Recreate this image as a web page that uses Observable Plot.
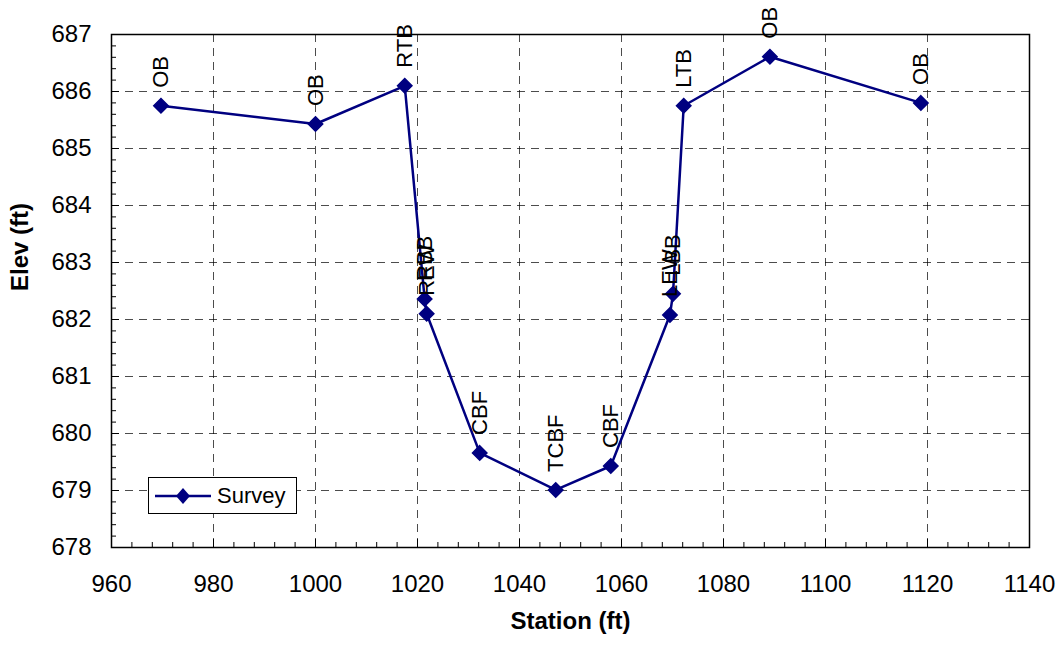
<!DOCTYPE html>
<html>
<head>
<meta charset="utf-8">
<script src="https://cdn.jsdelivr.net/npm/d3@7"></script>
<script src="https://cdn.jsdelivr.net/npm/@observablehq/plot@0.6"></script>
<style>
  html, body { margin: 0; padding: 0; background: #fff; }
  #wrap { position: relative; width: 1064px; height: 645px; font-family: "Liberation Sans", Arial, sans-serif; }
  #legend { position: absolute; left: 148px; top: 477px; width: 147px; height: 35px; border: 1px solid #000; background: #fff;
            display: flex; align-items: center; font-size: 22px; }
</style>
</head>
<body>
<div id="wrap"></div>
<script>
// ---- data ----
const station = [969.7, 1000.0, 1017.5, 1021.4, 1021.8, 1032.2, 1047.1, 1057.9, 1069.5, 1070.1, 1072.2, 1089.1, 1118.7];
const elev    = [685.75, 685.43, 686.10, 682.36, 682.10, 679.66, 679.01, 679.43, 682.08, 682.45, 685.75, 686.61, 685.80];
const codes   = ["OB", "OB", "RTB", "RBB", "REW", "CBF", "TCBF", "CBF", "LEW", "LBB", "LTB", "OB", "OB"];
const seriesName = "Survey";
const xTicks = [960, 980, 1000, 1020, 1040, 1060, 1080, 1100, 1120, 1140];
const yTicks = [678, 679, 680, 681, 682, 683, 684, 685, 686, 687];
const xMinor = d3.range(960, 1140.001, 4);
const yMinor = d3.range(0, 46).map(i => 678 + i * 0.2);
const xTitle = "Station (ft)";
const yTitle = "Elev (ft)";

const rows = station.map((s, i) => ({station: s, elev: elev[i], code: codes[i]}));
const navy = "#000080";
const W = 1064, H = 645, mL = 111, mR = 35, mT = 34, mB = 98;
const plotH = H - mT - mB, plotW = W - mL - mR;

const chart = Plot.plot({
  width: W, height: H,
  marginLeft: mL, marginRight: mR, marginTop: mT, marginBottom: mB,
  style: {fontFamily: '"Liberation Sans", Arial, sans-serif', fontSize: "24px", background: "#fff", color: "#000"},
  x: {domain: [960, 1140]},
  y: {domain: [678, 687]},
  marks: [
    Plot.gridX({ticks: xTicks, stroke: "#000", strokeOpacity: 0.7, strokeDasharray: "8,6"}),
    Plot.gridY({ticks: yTicks, stroke: "#000", strokeOpacity: 0.7, strokeDasharray: "8,6"}),
    Plot.ruleX(xMinor, {x: d => d, insetTop: plotH - 5, stroke: "#000"}),
    Plot.ruleY(yMinor, {y: d => d, insetRight: plotW - 5, stroke: "#000"}),
    Plot.ruleX(xTicks, {x: d => d, insetTop: plotH - 8, stroke: "#000"}),
    Plot.ruleY(yTicks, {y: d => d, insetRight: plotW - 8, stroke: "#000"}),
    Plot.frame({stroke: "#000", strokeWidth: 1.5}),
    Plot.axisX({ticks: xTicks, tickSize: 0, tickPadding: 27, tickFormat: d => String(d), label: null, fontSize: 24}),
    Plot.axisY({ticks: yTicks, tickSize: 0, tickPadding: 20, tickFormat: d => String(d), label: null, fontSize: 24}),
    Plot.line(rows, {x: "station", y: "elev", stroke: navy, strokeWidth: 2.5}),
    Plot.dot(rows, {x: "station", y: "elev", symbol: "diamond2", r: 6.5, fill: navy, stroke: navy}),
    Plot.text(rows, {x: "station", y: "elev", text: "code", rotate: -90, textAnchor: "start", lineAnchor: "middle", dy: -18, fontSize: 22, fill: "#000"}),
    Plot.text([xTitle], {text: d => d, frameAnchor: "bottom", dy: 81, fontWeight: "bold", fontSize: 24}),
    Plot.text([yTitle], {text: d => d, frameAnchor: "left", dx: -91, rotate: -90, fontWeight: "bold", fontSize: 24})
  ]
});

const wrap = document.getElementById("wrap");
wrap.appendChild(chart);

// legend
const legend = document.createElement("div");
legend.id = "legend";
legend.innerHTML = `<svg width="62" height="20" style="margin-left:6px;margin-right:0px"><line x1="0" y1="10" x2="56" y2="10" stroke="${navy}" stroke-width="2.5"/><path d="M28,2 L35,10 L28,18 L21,10 Z" fill="${navy}"/></svg><span>${seriesName}</span>`;
wrap.appendChild(legend);
</script>
</body>
</html>
